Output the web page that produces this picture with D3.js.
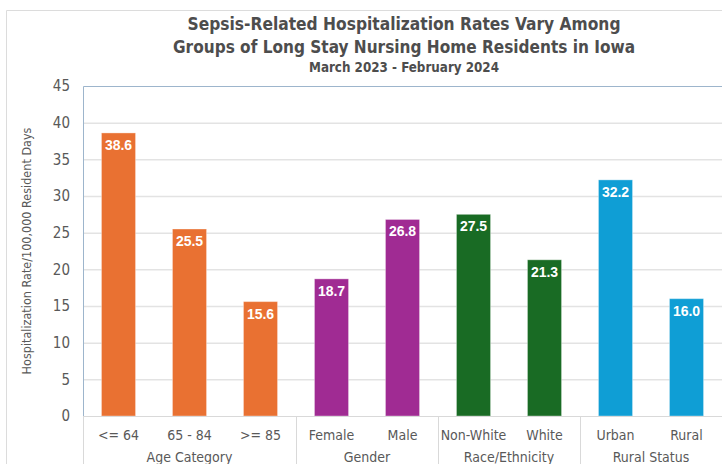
<!DOCTYPE html>
<html>
<head>
<meta charset="utf-8">
<script src="https://cdn.jsdelivr.net/npm/d3@7"></script>
<style>
  body { margin: 0; background: #fff; }
  svg { display: block; }
  .narrow { font-family: "DejaVu Sans Condensed", "Liberation Sans Narrow", sans-serif; }
</style>
</head>
<body>
<div id="chart"></div>
<script>
// Chart data
const categories = ["<= 64", "65 - 84", ">= 85", "Female", "Male", "Non-White", "White", "Urban", "Rural"];
const rates = [38.6, 25.5, 15.6, 18.7, 26.8, 27.5, 21.3, 32.2, 16.0];
const groupOf = ["Age Category", "Age Category", "Age Category", "Gender", "Gender",
                 "Race/Ethnicity", "Race/Ethnicity", "Rural Status", "Rural Status"];
const groups = ["Age Category", "Gender", "Race/Ethnicity", "Rural Status"];
const groupColors = ["#E97132", "#A02B93", "#196B24", "#0F9ED5"];
const yTicks = [0, 5, 10, 15, 20, 25, 30, 35, 40, 45];

const data = categories.map((c, i) => ({ cat: c, value: rates[i], group: groupOf[i] }));

const width = 722;
const height = 464;
const margin = { top: 86, right: 0, bottom: 48, left: 83 };

const svg = d3.select("#chart")
    .append("svg")
    .attr("width", width)
    .attr("height", height);

// outer frame (partially cropped in the original)
svg.append("path")
    .attr("d", `M6.5,${height} V10.5 H${width}`)
    .attr("fill", "none")
    .attr("stroke", "#dcdcdc")
    .attr("stroke-width", 1);

const x = d3.scaleBand()
    .domain(categories)
    .range([margin.left, width - margin.right])
    .paddingInner(0.52)
    .paddingOuter(0.26);

const y = d3.scaleLinear()
    .domain([0, 45])
    .range([height - margin.bottom, margin.top]);

const color = d3.scaleOrdinal().domain(groups).range(groupColors);

// gridlines
svg.append("g")
    .selectAll("line")
    .data(yTicks.filter(t => t > 0 && t < 45))
    .enter()
    .append("line")
    .attr("x1", margin.left)
    .attr("x2", width - margin.right)
    .attr("y1", d => y(d) + 0.5)
    .attr("y2", d => y(d) + 0.5)
    .attr("stroke", "#e3e3e3")
    .attr("stroke-width", 1.5);

// plot area border (top + left)
svg.append("path")
    .attr("d", `M${margin.left + 0.5},${y(0)} V${y(45) + 0.5} H${width}`)
    .attr("fill", "none")
    .attr("stroke", "#9db5cc")
    .attr("stroke-width", 1);

// y tick labels
svg.append("g")
    .selectAll("text")
    .data(yTicks)
    .enter()
    .append("text")
    .attr("class", "narrow")
    .attr("x", 70)
    .attr("y", d => y(d))
    .attr("dy", "0.35em")
    .attr("text-anchor", "end")
    .attr("font-size", 15)
    .attr("fill", "#595959")
    .text(d => d);

// y axis title
svg.append("text")
    .attr("class", "narrow")
    .attr("transform", "rotate(-90)")
    .attr("x", -(y(0) + y(45)) / 2)
    .attr("y", 31)
    .attr("text-anchor", "middle")
    .attr("font-size", 12.5)
    .attr("fill", "#595959")
    .text("Hospitalization Rate/100,000 Resident Days");

// bars
svg.append("g")
    .selectAll("rect")
    .data(data)
    .enter()
    .append("rect")
    .attr("x", d => x(d.cat))
    .attr("y", d => y(d.value))
    .attr("width", x.bandwidth())
    .attr("height", d => y(0) - y(d.value))
    .attr("fill", d => color(d.group))
    .attr("stroke", "#ffffff")
    .attr("stroke-opacity", 0.35)
    .attr("stroke-width", 1);

// value labels inside the bars
svg.append("g")
    .selectAll("text")
    .data(data)
    .enter()
    .append("text")
    .attr("x", d => x(d.cat) + x.bandwidth() / 2)
    .attr("y", d => y(d.value) + 17)
    .attr("text-anchor", "middle")
    .attr("font-family", "'Liberation Sans', Arial, sans-serif")
    .attr("font-weight", "bold")
    .attr("font-size", 14)
    .attr("fill", "#ffffff")
    .text(d => d.value.toFixed(1));

// x axis baseline
svg.append("line")
    .attr("x1", margin.left)
    .attr("x2", width)
    .attr("y1", y(0) + 0.5)
    .attr("y2", y(0) + 0.5)
    .attr("stroke", "#d9d9d9")
    .attr("stroke-width", 1);

// category labels
svg.append("g")
    .selectAll("text")
    .data(categories)
    .enter()
    .append("text")
    .attr("class", "narrow")
    .attr("x", d => x(d) + x.bandwidth() / 2)
    .attr("y", 440)
    .attr("text-anchor", "middle")
    .attr("font-size", 14)
    .attr("fill", "#595959")
    .text(d => d);

// group separators and group labels
const step = x.step();
let start = 0;
const bounds = [];
groups.forEach(g => {
    const n = groupOf.filter(v => v === g).length;
    bounds.push({ g, x0: margin.left + start * step, x1: margin.left + (start + n) * step });
    start += n;
});

svg.append("g")
    .selectAll("line")
    .data([margin.left].concat(bounds.map(b => b.x1)))
    .enter()
    .append("line")
    .attr("x1", d => Math.round(d) + 0.5)
    .attr("x2", d => Math.round(d) + 0.5)
    .attr("y1", y(0))
    .attr("y2", height)
    .attr("stroke", "#d9d9d9")
    .attr("stroke-width", 1);

svg.append("g")
    .selectAll("text")
    .data(bounds)
    .enter()
    .append("text")
    .attr("class", "narrow")
    .attr("x", d => (d.x0 + d.x1) / 2)
    .attr("y", 462)
    .attr("text-anchor", "middle")
    .attr("font-size", 14)
    .attr("fill", "#595959")
    .text(d => d.g);

// titles (squeezed to match the narrow font of the original)
const titleLines = [
    { text: "Sepsis-Related Hospitalization Rates Vary Among", y: 30, len: 433, size: 18.5 },
    { text: "Groups of Long Stay Nursing Home Residents in Iowa", y: 53, len: 462, size: 18.5 },
    { text: "March 2023 - February 2024", y: 72, len: 190, size: 13.5 }
];
svg.append("g")
    .selectAll("text")
    .data(titleLines)
    .enter()
    .append("text")
    .attr("class", "narrow")
    .attr("x", 404)
    .attr("y", d => d.y)
    .attr("text-anchor", "middle")
    .attr("font-size", d => d.size)
    .attr("font-weight", "bold")
    .attr("fill", "#4d4d4d")
    .attr("textLength", d => d.len)
    .attr("lengthAdjust", "spacingAndGlyphs")
    .text(d => d.text);
</script>
</body>
</html>
